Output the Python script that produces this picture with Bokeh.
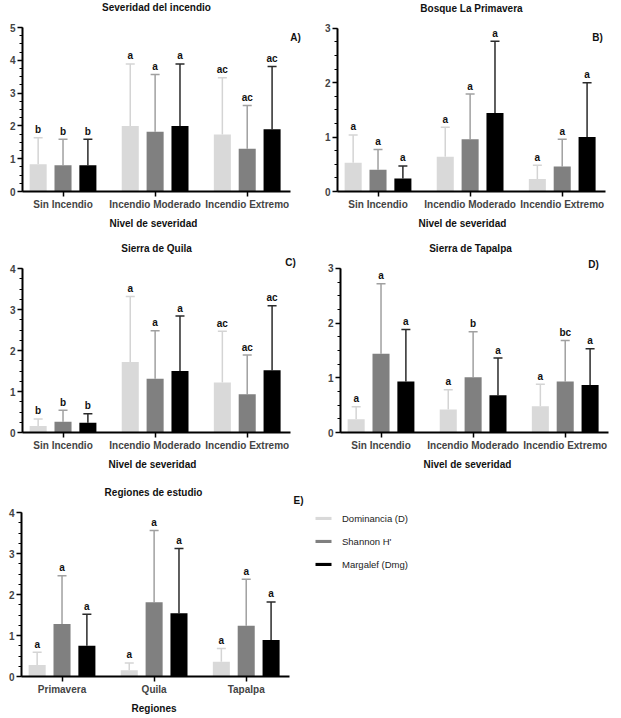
import numpy as np
from bokeh.plotting import figure
from bokeh.models import (Range1d, FixedTicker, ColumnDataSource, Whisker, TeeHead,
                          Legend, LegendItem, Label, Title)
from bokeh.layouts import column, row
from bokeh.embed import file_html
from bokeh.resources import INLINE
from bokeh.core.properties import value

# ---------------- data ----------------
severity_cats = ["Sin Incendio", "Incendio Moderado", "Incendio Extremo"]
region_cats = ["Primavera", "Quila", "Tapalpa"]
series_names = ["Dominancia (D)", "Shannon H'", "Margalef (Dmg)"]

# Panel A - Severidad del incendio
a_D_mean = [0.83, 2.00, 1.74]
a_D_top = [1.64, 3.89, 3.47]
a_H_mean = [0.80, 1.82, 1.30]
a_H_top = [1.59, 3.57, 2.62]
a_M_mean = [0.80, 2.00, 1.90]
a_M_top = [1.59, 3.89, 3.81]
a_D_let = ["b", "a", "ac"]
a_H_let = ["b", "a", "ac"]
a_M_let = ["b", "a", "ac"]

# Panel B - Bosque La Primavera
b_D_mean = [0.53, 0.64, 0.23]
b_D_top = [1.04, 1.18, 0.48]
b_H_mean = [0.40, 0.96, 0.46]
b_H_top = [0.77, 1.79, 0.96]
b_M_mean = [0.24, 1.44, 1.00]
b_M_top = [0.47, 2.76, 2.00]
b_D_let = ["a", "a", "a"]
b_H_let = ["a", "a", "a"]
b_M_let = ["a", "a", "a"]

# Panel C - Sierra de Quila
c_D_mean = [0.16, 1.72, 1.22]
c_D_top = [0.33, 3.32, 2.47]
c_H_mean = [0.26, 1.31, 0.93]
c_H_top = [0.54, 2.48, 1.89]
c_M_mean = [0.24, 1.50, 1.52]
c_M_top = [0.46, 2.84, 3.09]
c_D_let = ["b", "a", "ac"]
c_H_let = ["b", "a", "ac"]
c_M_let = ["b", "a", "ac"]

# Panel D - Sierra de Tapalpa
d_D_mean = [0.24, 0.42, 0.48]
d_D_top = [0.47, 0.78, 0.88]
d_H_mean = [1.44, 1.01, 0.93]
d_H_top = [2.72, 1.84, 1.68]
d_M_mean = [0.93, 0.68, 0.87]
d_M_top = [1.88, 1.36, 1.53]
d_D_let = ["a", "a", "a"]
d_H_let = ["a", "b", "bc"]
d_M_let = ["a", "a", "a"]

# Panel E - Regiones de estudio
e_D_mean = [0.28, 0.15, 0.36]
e_D_top = [0.59, 0.33, 0.68]
e_H_mean = [1.28, 1.81, 1.24]
e_H_top = [2.46, 3.56, 2.37]
e_M_mean = [0.75, 1.54, 0.89]
e_M_top = [1.52, 3.12, 1.82]
e_D_let = ["a", "a", "a"]
e_H_let = ["a", "a", "a"]
e_M_let = ["a", "a", "a"]

# ---------------- style ----------------
FONT = "Liberation Sans"
bar_colors = ["#d9d9d9", "#808080", "#000000"]
err_colors = ["#d4d4d4", "#a0a0a0", "#2a2a2a"]
offsets = [-0.27, 0.0, 0.27]
BAR_W = 0.185
XR = (-0.44, 2.47)       # visible axis extent (category units)
AXIS_PX = 268            # pixel length of the drawn x axis


def make_panel(title, cats, ymax, series, letters, xlabel, xlabel_offset,
               width, height, axis_left, axis_top, axis_bottom,
               title_dx, tag, tag_dx, tag_dy):
    """axis_left: px from figure left to y-axis; axis_top/bottom: px from figure top
    to y=ymax and y=0."""
    px_x = AXIS_PX / (XR[1] - XR[0])
    x_end = XR[0] + (width - axis_left) / px_x
    px_y = (axis_bottom - axis_top) / ymax
    y_end = ymax + axis_top / px_y

    p = figure(width=width, height=height, output_backend="svg", toolbar_location=None,
               x_range=Range1d(XR[0], x_end), y_range=Range1d(0, y_end),
               min_border_left=axis_left, min_border_right=0,
               min_border_top=0, min_border_bottom=height - axis_bottom)
    p.xgrid.visible = False
    p.ygrid.visible = False
    p.outline_line_color = None
    p.background_fill_color = "white"
    p.border_fill_color = "white"

    idx = np.arange(len(cats))
    renderers = []
    for k, (mean, top) in enumerate(series):
        src = ColumnDataSource(dict(x=idx + offsets[k], mean=mean, top=top, lab=letters[k]))
        r = p.vbar(x="x", top="mean", bottom=0, width=BAR_W, source=src,
                   fill_color=bar_colors[k], line_color=None)
        renderers.append(r)
        w = Whisker(base="x", lower="mean", upper="top", source=src, dimension="height",
                    line_color=err_colors[k], line_width=1.5,
                    upper_head=TeeHead(size=9, line_color=err_colors[k], line_width=1.5),
                    lower_head=None)
        p.add_layout(w)
        p.text(x="x", y="top", text="lab", source=src, text_align="center",
               text_baseline="alphabetic", y_offset=-8,
               text_font=value(FONT), text_font_size="10px", text_font_style="bold",
               text_color="#111111")

    xa = p.xaxis[0]
    xa.bounds = XR
    xa.ticker = FixedTicker(ticks=list(idx))
    xa.major_label_overrides = {int(i): c for i, c in zip(idx, cats)}
    xa.major_label_text_font = FONT
    xa.major_label_text_font_size = "10px"
    xa.major_label_text_font_style = "bold"
    xa.major_label_standoff = 2
    xa.major_tick_in = 0
    xa.major_tick_out = 5
    xa.minor_tick_out = 0
    xa.axis_line_width = 2
    xa.major_tick_line_width = 1.5

    # x-axis title, placed under the drawn axis (not the whole frame)
    p.add_layout(Title(text=xlabel, align="left", offset=xlabel_offset, standoff=7,
                       text_font=FONT, text_font_size="10px", text_font_style="bold",
                       text_color="#111111"), "below")

    ya = p.yaxis[0]
    ya.bounds = (0, ymax)
    ya.ticker = FixedTicker(ticks=list(range(ymax + 1)),
                            minor_ticks=list(np.arange(0, ymax + 0.001, 0.25)))
    ya.major_label_text_font = FONT
    ya.major_label_text_font_size = "10px"
    ya.major_label_text_font_style = "bold"
    ya.major_label_standoff = 2
    ya.major_tick_in = 0
    ya.major_tick_out = 5
    ya.minor_tick_in = 0
    ya.minor_tick_out = 3
    ya.axis_line_width = 2
    ya.major_tick_line_width = 1.5
    ya.minor_tick_line_width = 1

    # panel title, centred over the drawn axis
    p.add_layout(Label(x=(XR[0] + XR[1]) / 2, y=ymax, x_offset=title_dx, y_offset=20,
                       text=title, text_align="center", text_baseline="middle",
                       text_font=FONT, text_font_size="10px", text_font_style="bold",
                       text_color="#111111"))
    # panel tag
    p.add_layout(Label(x=XR[1], y=ymax, x_offset=tag_dx, y_offset=tag_dy, text=tag,
                       text_align="center", text_baseline="middle",
                       text_font=FONT, text_font_size="10px", text_font_style="bold",
                       text_color="#111111"))
    return p, renderers


pA, _ = make_panel("Severidad del incendio", severity_cats, 5,
                   [(a_D_mean, a_D_top), (a_H_mean, a_H_top), (a_M_mean, a_M_top)],
                   [a_D_let, a_H_let, a_M_let], "Nivel de severidad", 87,
                   310, 234, 22, 27, 191, 0, "A)", 5, -10)
pB, _ = make_panel("Bosque La Primavera", severity_cats, 3,
                   [(b_D_mean, b_D_top), (b_H_mean, b_H_top), (b_M_mean, b_M_top)],
                   [b_D_let, b_H_let, b_M_let], "Nivel de severidad", 81,
                   311, 234, 27, 28, 193, 0, "B)", -8, -9)
pC, _ = make_panel("Sierra de Quila", severity_cats, 4,
                   [(c_D_mean, c_D_top), (c_H_mean, c_H_top), (c_M_mean, c_M_top)],
                   [c_D_let, c_H_let, c_M_let], "Nivel de severidad", 86,
                   310, 244, 22, 34, 198, 0, "C)", 0, 6)
pD, _ = make_panel("Sierra de Tapalpa", severity_cats, 3,
                   [(d_D_mean, d_D_top), (d_H_mean, d_H_top), (d_M_mean, d_M_top)],
                   [d_D_let, d_H_let, d_M_let], "Nivel de severidad", 83,
                   311, 244, 30, 34, 199, -4, "D)", -15, 4)
pE, rE = make_panel("Regiones de estudio", region_cats, 4,
                    [(e_D_mean, e_D_top), (e_H_mean, e_H_top), (e_M_mean, e_M_top)],
                    [e_D_let, e_H_let, e_M_let], "Regiones", 110,
                    621, 240, 21, 34, 198, -2, "E)", 9, 12)

legend = Legend(items=[LegendItem(label=n, renderers=[r]) for n, r in zip(series_names, rE)],
                location=(292, 104), orientation="vertical",
                glyph_width=20, glyph_height=4, label_height=16, spacing=7,
                label_standoff=9, padding=0, margin=0,
                label_text_font=FONT, label_text_font_size="9.5px",
                label_text_color="#222222", label_text_baseline="middle",
                border_line_color=None, background_fill_color=None)
pE.add_layout(legend, "center")

layout = column(row(pA, pB, spacing=0), row(pC, pD, spacing=0), pE, spacing=0)

open("out.html", "w").write(file_html(layout, INLINE))
